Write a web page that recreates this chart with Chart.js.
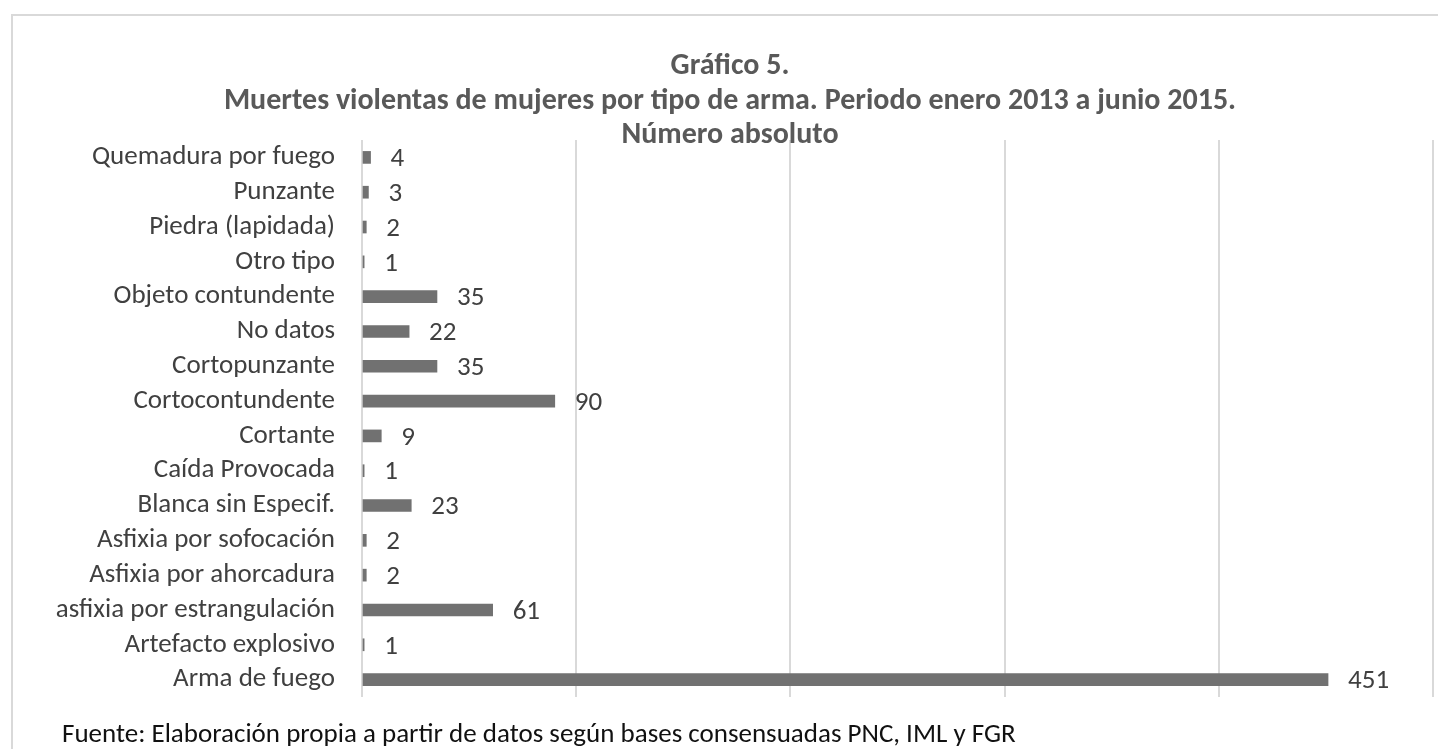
<!DOCTYPE html>
<html>
<head>
<meta charset="utf-8">
<script src="https://cdn.jsdelivr.net/npm/chart.js@4/dist/chart.umd.min.js"></script>
<style>
    html, body { margin: 0; padding: 0; background: #fff; }
    #wrap { width: 1438px; height: 749px; position: relative; }
</style>
</head>
<body>
<div id="wrap"><canvas id="grafico"></canvas></div>
<script>
const categorias = [
    "Quemadura por fuego", "Punzante", "Piedra (lapidada)", "Otro tipo",
    "Objeto contundente", "No datos", "Cortopunzante", "Cortocontundente",
    "Cortante", "Caída Provocada", "Blanca sin Especif.", "Asfixia por sofocación",
    "Asfixia por ahorcadura", "asfixia por estrangulación", "Artefacto explosivo", "Arma de fuego"
];
const muertes = [4, 3, 2, 1, 35, 22, 35, 90, 9, 1, 23, 2, 2, 61, 1, 451];
const titulo = [
    "Gráfico 5.",
    "Muertes violentas de mujeres por tipo de arma. Periodo enero 2013 a junio 2015.",
    "Número absoluto"
];
const fuente = "Fuente: Elaboración propia a partir de datos según bases consensuadas PNC, IML y FGR";

const fam = "Carlito, Lato, 'Open Sans', sans-serif";

// marco, título y fuente
const decoracion = {
    id: "decoracion",
    beforeDraw(chart) {
        let ctx = chart.ctx;
        ctx.save();
        ctx.strokeStyle = "#d9d9d9";
        ctx.lineWidth = 2;
        ctx.beginPath();
        ctx.moveTo(12, 749);
        ctx.lineTo(12, 15);
        ctx.lineTo(1438, 15);
        ctx.stroke();
        ctx.restore();
    },
    afterDraw(chart) {
        let ctx = chart.ctx;
        ctx.save();
        ctx.textAlign = "center";
        ctx.textBaseline = "middle";
        ctx.fillStyle = "#595959";
        ctx.font = "bold 30px " + fam;
        let ys = [66, 101, 135];
        for (let i = 0; i < titulo.length; i++) {
            ctx.fillText(titulo[i], 730, ys[i]);
        }
        ctx.textAlign = "left";
        ctx.fillStyle = "#111";
        ctx.font = "27px " + fam;
        ctx.fillText(fuente, 62, 735);
        ctx.restore();
    }
};

// etiquetas de valor
const etiquetas = {
    id: "etiquetas",
    afterDatasetsDraw(chart) {
        let ctx = chart.ctx;
        let meta = chart.getDatasetMeta(0);
        ctx.save();
        ctx.fillStyle = "#404040";
        ctx.font = "27px " + fam;
        ctx.textAlign = "left";
        ctx.textBaseline = "middle";
        meta.data.forEach(function(bar, i) {
            ctx.fillText(String(muertes[i]), bar.x + 20, bar.y + 2);
        });
        ctx.restore();
    }
};

new Chart(document.getElementById("grafico"), {
    type: "bar",
    data: {
        labels: categorias,
        datasets: [{
            data: muertes,
            backgroundColor: "#717171",
            borderWidth: 0,
            barThickness: 12
        }]
    },
    options: {
        indexAxis: "y",
        responsive: true,
        maintainAspectRatio: false,
        animation: false,
        layout: { padding: { top: 140, bottom: 52, left: 0, right: 5 } },
        plugins: {
            legend: { display: false },
            title: { display: false },
            tooltip: { enabled: false }
        },
        scales: {
            x: {
                min: 0,
                max: 500,
                ticks: { display: false, stepSize: 100 },
                border: { display: false },
                grid: { color: "#d9d9d9", lineWidth: 2, drawTicks: false },
                afterFit(scale) { scale.height = 0; }
            },
            y: {
                grid: { display: false },
                border: { display: false },
                ticks: {
                    color: "#404040",
                    font: { family: fam, size: 27 },
                    padding: 19,
                    autoSkip: false
                },
                afterFit(scale) { scale.width = 362; }
            }
        }
    },
    plugins: [decoracion, etiquetas]
});
</script>
</body>
</html>
